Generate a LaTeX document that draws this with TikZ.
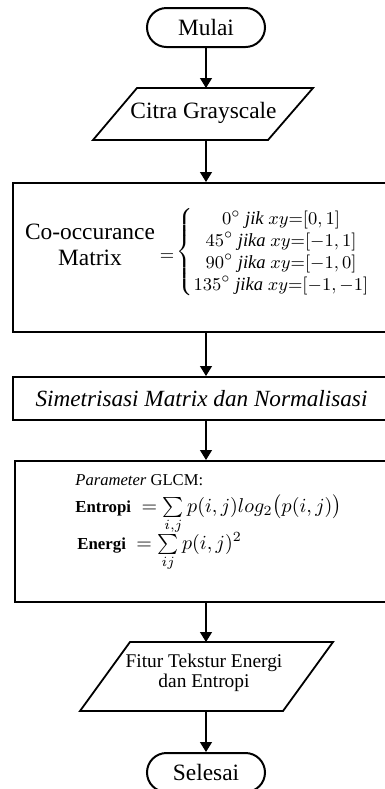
\documentclass[tikz,border=0pt]{standalone}
\usepackage{amsmath}
\usepackage{fontspec}
\setmainfont{Liberation Serif}
\usetikzlibrary{arrows.meta}
\begin{document}
\begin{tikzpicture}[x=0.5pt,y=-0.5pt,
  box/.style={draw,line width=1pt,rectangle,inner sep=0pt},
  term/.style={draw,line width=1pt,rectangle,rounded corners=9.75pt,minimum width=59pt,minimum height=19.5pt,inner sep=0pt,font=\fontsize{11.7}{14}\selectfont},
  para/.style={draw,line width=0.9pt},
  flow/.style={line width=0.6pt,-{Triangle[width=6pt,length=5pt]}},
  big/.style={font=\fontsize{11.7}{13}\selectfont},
  formula/.style={anchor=base west,font=\fontsize{10}{12}\selectfont,inner sep=0pt}
]
\useasboundingbox (0,0) rectangle (385,789);
\fill[white] (0,0) rectangle (385,789);

\node[term] (mulai) at (206,27.5) {Mulai};

\draw[para] (93,140) -- (137,88) -- (313,88) -- (268,140) -- cycle;
\node[big] (citra) at (203.5,113) {Citra Grayscale};
\coordinate (citraT) at (206,88);
\coordinate (citraB) at (206,140);

\node[box,minimum width=193pt,minimum height=74.5pt] (cooc) at (206,257.5) {};
\node[big,align=center] (coocT) at (90,245) {Co-occurance\\Matrix};
\node[font=\fontsize{9.5}{11}\selectfont,inner sep=0pt] (eq) at (167,257) {$=$};
\node[anchor=west,inner sep=0pt,font=\fontsize{9.3}{11}\selectfont] (brace) at (176,252) {$\left\{\vrule height 19pt depth 19pt width 0pt\right.$};
\node[font=\fontsize{9.3}{11}\selectfont,inner sep=0pt] (cases) at (281,253) {$\renewcommand{\arraystretch}{0.99}\begin{array}{@{}c@{}}
 0^{\circ}\ \mathit{jik}\ xy{=}[0,1]\\
 45^{\circ}\ \mathit{jika}\ xy{=}[-1,1]\\
 90^{\circ}\ \mathit{jika}\ xy{=}[-1,0]\\
 135^{\circ}\ \mathit{jika}\ xy{=}[-1,-1]
 \end{array}$};

\node[box,minimum width=193pt,minimum height=21.5pt] (sim) at (206,398.5) {};
\node[font=\fontsize{11.6}{13}\selectfont\itshape] (simT) at (201.5,399) {Simetrisasi Matrix dan Normalisasi};

\node[box,minimum width=191pt,minimum height=70.5pt] (glcm) at (206,531.5) {};
\node[anchor=west,font=\fontsize{8.3}{10}\selectfont,inner sep=0pt] (param) at (75,480) {\textit{Parameter} GLCM:};
\node[formula] (entropi) at (75,512) {\text{\fontsize{8.4}{10}\selectfont\bfseries Entropi}\ ${}= \sum\limits_{i,j} p(i,j)log_2\big(p(i,j)\big)$};
\node[formula] (energi) at (77,549) {\text{\fontsize{8.4}{10}\selectfont\bfseries Energi}\ ${}= \sum\limits_{ij} p(i,j)^2$};

\draw[para] (80,711) -- (130,642) -- (333,642) -- (283,711) -- cycle;
\node[align=center,font=\fontsize{9.7}{10}\selectfont] (fitur) at (204,673) {Fitur Tekstur Energi\\dan Entropi};
\coordinate (fiturT) at (206,642);
\coordinate (fiturB) at (206,711);

\node[term] (selesai) at (206,772.5) {Selesai};

\draw[flow] (mulai.south) -- (citraT);
\draw[flow] (citraB) -- (cooc.north);
\draw[flow] (cooc.south) -- (sim.north);
\draw[flow] (sim.south) -- (glcm.north);
\draw[flow] (glcm.south) -- (fiturT);
\draw[flow] (fiturB) -- (selesai.north);
\end{tikzpicture}
\end{document}
